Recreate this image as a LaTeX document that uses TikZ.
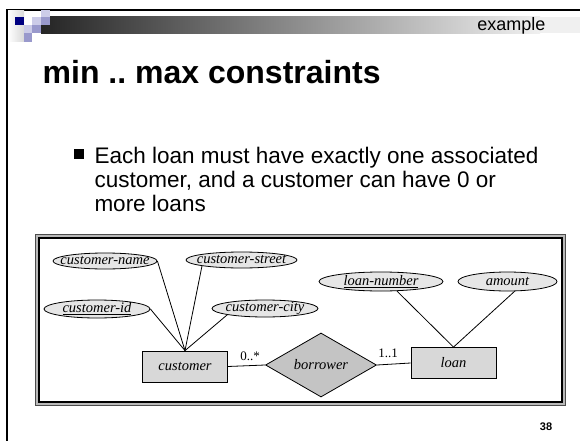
\documentclass[tikz,border=0pt]{standalone}
\usepackage{fontspec}
\setmainfont{Liberation Serif}
\newfontfamily\slidefont{Liberation Sans}
\usetikzlibrary{shapes.geometric}

\definecolor{navysq}{HTML}{000080}
\definecolor{lavlight}{HTML}{CCCCE8}
\definecolor{lavmid}{HTML}{9999CC}
\definecolor{barDark}{HTML}{252525}
\definecolor{barLight}{HTML}{F0F0F0}
\definecolor{attrfill}{HTML}{E6E6E6}
\definecolor{entfill}{HTML}{D8D8D8}
\definecolor{relfill}{HTML}{C4C4C4}

% thick underline for the loan key
\newcommand\thickkey[1]{\setbox0\hbox{#1}\rlap{\rule[-2.6pt]{\wd0}{1.2pt}}\box0}

\frenchspacing

\tikzset{
  erfont/.style={font=\fontsize{14.5}{16}\selectfont\itshape},
  attr/.style={ellipse, draw, fill=attrfill, inner sep=0pt, line width=0.8pt},
  attrlabel/.style={erfont, inner sep=0pt},
  entity/.style={rectangle, draw, fill=entfill, inner sep=0pt,
    minimum width=85pt, minimum height=31pt, erfont, line width=0.8pt},
  rel/.style={diamond, aspect=1.7, draw, fill=relfill, inner sep=0pt,
    minimum width=111pt, minimum height=64pt, erfont, line width=0.8pt},
  link/.style={line width=0.8pt},
  card/.style={font=\fontsize{13}{15}\selectfont, inner sep=0pt},
  bodyline/.style={anchor=base west, inner sep=0pt,
    font=\slidefont\fontsize{22.5}{24.4}\selectfont},
}

\begin{document}
\begin{tikzpicture}[x=1pt,y=-1pt]
\useasboundingbox (0,0) rectangle (580,441);
\fill[white] (0,0) rectangle (580,441);

% slide frame
\draw[line width=2pt] (6.5,441) -- (6.5,10) -- (580,10);

% header bar
\shade[left color=barDark, right color=barLight] (41,17) rectangle (540,33.5);
\fill[barLight] (540,17) rectangle (580,33.5);

% corner squares
\shade[left color=white, right color=gray!30] (8,11) rectangle (24,42);
\fill[navysq] (15,17) rectangle (24,25.5);
\fill[lavlight] (41,10.5) rectangle (50,17);
\fill[lavlight] (32,17) rectangle (41,25.5);
\fill[lavmid] (41,17) rectangle (50,25.5);
\fill[lavlight] (24,25.5) rectangle (32,33.5);
\fill[lavmid] (32,25.5) rectangle (41,33.5);
\fill[lavmid] (24,33.5) rectangle (32,42);

\node[anchor=base east, inner sep=0pt, font=\slidefont\fontsize{18}{20}\selectfont]
  (tag) at (545.5,31) {example};

% title and bullet
\node[anchor=base west, inner sep=0pt, font=\slidefont\bfseries\fontsize{32}{36}\selectfont]
  (title) at (42.5,84) {min .. max constraints};
\node[fill=black, inner sep=0pt, minimum size=10pt] (bullet) at (79,154) {};
\node[bodyline] (body1) at (94.3,163) {Each loan must have exactly one associated};
\node[bodyline] (body2) at (94.3,187.5) {customer, and a customer can have 0 or};
\node[bodyline] (body3) at (94.3,211.8) {more loans};

% diagram frame
\draw[fill=gray!55, draw=black!70, line width=1pt] (35.5,234.5) rectangle (565.5,405);
\draw[fill=white, draw=black, line width=2pt] (39,238) rectangle (562,401.5);

% attributes
\node[attr, minimum width=104pt, minimum height=16pt,
  label={[attrlabel]center:customer-name}] (cname) at (105,261) {};
\node[attr, minimum width=111pt, minimum height=16pt,
  label={[attrlabel]center:customer-street}] (cstreet) at (241.5,260) {};
\node[attr, minimum width=106pt, minimum height=18pt,
  label={[attrlabel]center:\underline{customer-id}}] (cid) at (97,309) {};
\node[attr, minimum width=106pt, minimum height=17pt,
  label={[attrlabel]center:customer-city}] (ccity) at (265,308.5) {};
\node[attr, minimum width=124pt, minimum height=19pt,
  label={[attrlabel]center:\thickkey{loan-number}}] (lnum) at (381,281.5) {};
\node[attr, minimum width=99pt, minimum height=19pt,
  label={[attrlabel]center:amount}] (amount) at (507.5,281.5) {};

% entities and relationship
\node[entity] (customer) at (185,366.5) {customer};
\node[rel] (borrower) at (321,365) {borrower};
\node[entity] (loan) at (453.5,363) {loan};

% connectors
\draw[link] (cname.east) -- (customer.north);
\draw[link] (cstreet.south west) -- (customer.north);
\draw[link] (cid.east) -- (customer.north);
\draw[link] (ccity.south west) -- (customer.north);
\draw[link] (lnum.-31) -- (loan.north);
\draw[link] (amount.-54) -- (loan.north);
\draw[link] (customer.east) -- (borrower.west);
\draw[link] (borrower.east) -- (loan.west);

% cardinalities
\node[card] (m1) at (250,356) {0..*};
\node[card] (m2) at (388,353) {1..1};

% page number
\node[anchor=base, inner sep=0pt, font=\slidefont\bfseries\fontsize{11}{12}\selectfont]
  (page) at (546,430) {38};
\end{tikzpicture}
\end{document}
